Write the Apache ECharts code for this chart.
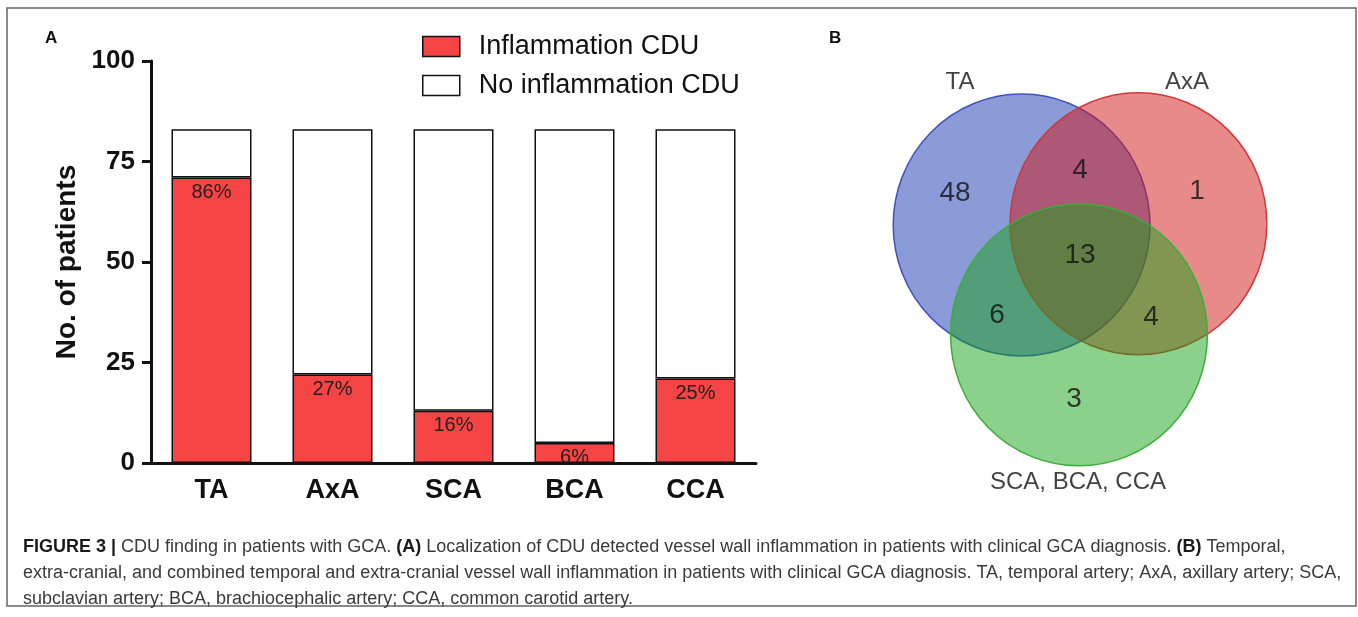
<!DOCTYPE html>
<html>
<head>
<meta charset="utf-8">
<script src="https://cdn.jsdelivr.net/npm/echarts@6/dist/echarts.min.js"></script>
<style>
html,body{margin:0;padding:0;background:#fff;}
#main{width:1358px;height:617px;}
</style>
</head>
<body>
<div id="main"></div>
<script>
// panel A: stacked counts per artery (83 patients)
var arteries = ['TA', 'AxA', 'SCA', 'BCA', 'CCA'];
var inflamed = [71, 22, 13, 5, 21];
var notInflamed = [12, 61, 70, 78, 62];
var inflamedPct = [86, 27, 16, 6, 25];
var seriesNames = ['Inflammation CDU', 'No inflammation CDU'];

// panel B: venn
var vennSets = ['TA', 'AxA', 'SCA, BCA, CCA'];
var vennCounts = [48, 4, 1, 13, 6, 4, 3];

// venn layout in the hidden 0..100 grid (not data)
var vennCircles = [[35.4, 61.1, 32.1, 29.1], [64.6, 61.4, 32.1, 29.1], [49.75, 36.7, 32.1, 29.1]];
var vennCountPos = [[18.75, 68.2], [50, 73.3], [79.25, 68.7], [50, 54.4], [29.25, 41.1], [67.75, 40.7], [48.5, 22.4]];
var vennSetPos = [[20, 92.9], [76.75, 92.9], [49.5, 4.0]];
var vennFill = ['rgba(23,55,177,0.5)', 'rgba(209,21,21,0.5)', 'rgba(23,161,23,0.5)'];
var vennStroke = ['#3f52c0', '#d0383a', '#3aae3a'];

var FONT = 'Liberation Sans, Arial, sans-serif';

function $each(arr, fn){
	for(var i = 0; i < arr.length; i++){ fn(i, arr[i]); }
}

var countData = [];
$each(vennCountPos, function(i, p){
	countData.push({value: [p[0], p[1]], name: String(vennCounts[i])});
});
var setData = [];
$each(vennSetPos, function(i, p){
	setData.push({value: [p[0], p[1]], name: vennSets[i]});
});

var myChart = echarts.init(document.getElementById('main'));

// caption text
var capStyle = {fontSize: 18, fontFamily: FONT, fill: '#3a3a3a', verticalAlign: 'middle',
	rich: {b: {fontWeight: 'bold', fontSize: 18, fontFamily: FONT, fill: '#1a1a1a'}}};
function capLine(y, txt){
	var st = {};
	for(var k in capStyle){ st[k] = capStyle[k]; }
	st.text = txt;
	return {type: 'text', x: 23, y: y, silent: true, style: st};
}

var option = {
	animation: false,
	backgroundColor: '#fff',
	textStyle: {fontFamily: FONT},
	legend: {
		data: seriesNames,
		orient: 'vertical',
		left: 422,
		top: 33,
		padding: 0,
		itemWidth: 37,
		itemHeight: 20,
		itemGap: 12,
		icon: 'rect',
		itemStyle: {borderColor: '#111', borderWidth: 1.5},
		textStyle: {fontSize: 27, color: '#111', fontFamily: FONT, padding: [0, 0, 0, 14]}
	},
	grid: [
		{left: 151, top: 61, width: 605, height: 402},
		{left: 880, top: 50, width: 400, height: 450}
	],
	xAxis: [
		{
			type: 'category',
			gridIndex: 0,
			data: arteries,
			axisLine: {lineStyle: {color: '#111', width: 3}},
			axisTick: {alignWithLabel: true, length: 9, lineStyle: {width: 3, color: '#111'}},
			axisLabel: {fontSize: 27, fontWeight: 'bold', color: '#111', margin: 14, fontFamily: FONT}
		},
		{type: 'value', gridIndex: 1, min: 0, max: 100, show: false}
	],
	yAxis: [
		{
			type: 'value',
			gridIndex: 0,
			min: 0,
			max: 100,
			interval: 25,
			name: 'No. of patients',
			nameLocation: 'middle',
			nameGap: 70,
			nameTextStyle: {fontSize: 28, fontWeight: 'bold', color: '#111', fontFamily: FONT},
			splitLine: {show: false},
			axisLine: {show: true, lineStyle: {color: '#111', width: 3}},
			axisTick: {show: true, length: 9, lineStyle: {width: 3, color: '#111'}},
			axisLabel: {fontSize: 26, fontWeight: 'bold', color: '#111', margin: 16, fontFamily: FONT}
		},
		{type: 'value', gridIndex: 1, min: 0, max: 100, show: false}
	],
	series: [
		{
			name: seriesNames[0],
			type: 'bar',
			stack: 'cdu',
			barWidth: 80,
			data: inflamed,
			itemStyle: {color: '#f64343', borderColor: '#111', borderWidth: 1.5},
			label: {
				show: true,
				position: 'insideTop',
				distance: 5,
				fontSize: 20,
				color: '#222',
				fontFamily: FONT,
				formatter: function(p){ return inflamedPct[p.dataIndex] + '%'; }
			}
		},
		{
			name: seriesNames[1],
			type: 'bar',
			stack: 'cdu',
			barWidth: 80,
			data: notInflamed,
			itemStyle: {color: '#fff', borderColor: '#111', borderWidth: 1.5}
		},
		{
			type: 'custom',
			xAxisIndex: 1,
			yAxisIndex: 1,
			clip: false,
			silent: true,
			data: vennCircles,
			encode: {x: 0, y: 1},
			renderItem: function(params, api){
				var c = api.coord([api.value(0), api.value(1)]);
				var s = api.size([api.value(2), api.value(3)]);
				var i = params.dataIndex;
				return {
					type: 'circle',
					x: c[0],
					y: c[1],
					scaleY: s[1] / s[0],
					shape: {cx: 0, cy: 0, r: s[0]},
					style: {fill: vennFill[i], stroke: vennStroke[i], lineWidth: 1.5}
				};
			}
		},
		{
			type: 'scatter',
			xAxisIndex: 1,
			yAxisIndex: 1,
			symbolSize: 0,
			silent: true,
			data: countData,
			label: {show: true, position: 'inside', formatter: '{b}', fontSize: 28, color: '#111', fontFamily: FONT}
		},
		{
			type: 'scatter',
			xAxisIndex: 1,
			yAxisIndex: 1,
			symbolSize: 0,
			silent: true,
			data: setData,
			label: {show: true, position: 'inside', formatter: '{b}', fontSize: 24, color: '#111', fontFamily: FONT}
		}
	],
	graphic: [
		{type: 'rect', shape: {x: 7, y: 8, width: 1349, height: 598}, style: {fill: 'none', stroke: '#666', lineWidth: 1.5}, silent: true},
		{type: 'text', x: 45, y: 38, style: {text: 'A', font: 'bold 17px ' + FONT, fill: '#111', verticalAlign: 'middle'}},
		{type: 'text', x: 829, y: 38, style: {text: 'B', font: 'bold 17px ' + FONT, fill: '#111', verticalAlign: 'middle'}},
		capLine(547, '{b|FIGURE 3 |} CDU finding in patients with GCA. {b|(A)} Localization of CDU detected vessel wall inflammation in patients with clinical GCA diagnosis. {b|(B)} Temporal,'),
		capLine(573, 'extra-cranial, and combined temporal and extra-cranial vessel wall inflammation in patients with clinical GCA diagnosis. TA, temporal artery; AxA, axillary artery; SCA,'),
		capLine(599, 'subclavian artery; BCA, brachiocephalic artery; CCA, common carotid artery.')
	]
};
myChart.setOption(option);
</script>
</body>
</html>
